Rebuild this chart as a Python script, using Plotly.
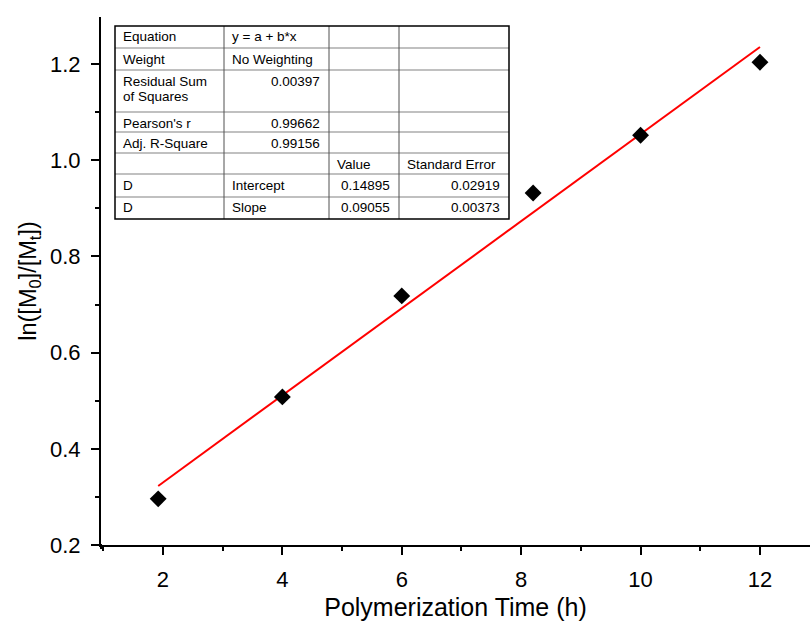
import plotly.graph_objects as go

# ---- data ----
time_h = [1.92, 4, 6, 8.2, 10, 12]
ln_ratio = [0.296, 0.508, 0.718, 0.932, 1.052, 1.204]

fit_intercept = 0.14895
fit_slope = 0.09055
fit_x = [1.92, 12]
fit_y = [fit_intercept + fit_slope * x for x in fit_x]

x_ticks = [2, 4, 6, 8, 10, 12]
y_ticks = [0.2, 0.4, 0.6, 0.8, 1.0, 1.2]

table_col1 = ["Equation", "Weight", "Residual Sum<br>of Squares", "Pearson's r", "Adj. R-Square", "", "D", "D"]
table_col2 = ["y = a + b*x", "No Weighting", "0.00397", "0.99662", "0.99156", "", "Intercept", "Slope"]
table_col3 = ["", "", "", "", "", "Value", "0.14895", "0.09055"]
table_col4 = ["", "", "", "", "", "Standard Error", "0.02919", "0.00373"]

# ---- layout geometry (pixels) ----
W, H = 810, 621
ML, MR, MT, MB = 101, 0, 17, 76
PW = W - ML - MR
PH = H - MT - MB


def px(x):
    return (x - ML) / PW


def py(y):
    return (H - MB - y) / PH


FONT = "Liberation Sans, Arial, sans-serif"

fig = go.Figure()
fig.add_trace(go.Scatter(x=fit_x, y=fit_y, mode="lines",
                         line=dict(color="#ff0000", width=2), showlegend=False))
fig.add_trace(go.Scatter(x=time_h, y=ln_ratio, mode="markers",
                         marker=dict(symbol="diamond", size=13, color="black",
                                     line=dict(width=0)), showlegend=False))

shapes = []
annotations = []

# table
col_edges = [115, 224, 329, 399, 509]
row_edges = [26, 48, 70, 112, 132, 153, 174, 197, 219]

for yy in row_edges[1:-1]:
    shapes.append(dict(type="line", xref="paper", yref="paper",
                       x0=px(col_edges[0]), x1=px(col_edges[-1]), y0=py(yy), y1=py(yy),
                       line=dict(color="#c0c0c0", width=2)))
for xx in col_edges[1:-1]:
    shapes.append(dict(type="line", xref="paper", yref="paper",
                       x0=px(xx), x1=px(xx), y0=py(row_edges[0]), y1=py(row_edges[-1]),
                       line=dict(color="#505050", width=1)))
shapes.append(dict(type="rect", xref="paper", yref="paper",
                   x0=px(col_edges[0]), x1=px(col_edges[-1]),
                   y0=py(row_edges[-1]), y1=py(row_edges[0]),
                   line=dict(color="black", width=1.5)))


def is_num(s):
    try:
        float(s)
        return True
    except ValueError:
        return False


cols = [table_col1, table_col2, table_col3, table_col4]
for ci, col in enumerate(cols):
    for ri, txt in enumerate(col):
        if not txt:
            continue
        lines = txt.split("<br>")
        right = is_num(txt)
        for li, ln in enumerate(lines):
            xpos = col_edges[ci + 1] - 7 if right else col_edges[ci] + 6
            ypos = row_edges[ri] + 11 + li * 16
            annotations.append(dict(text=ln, xref="paper", yref="paper",
                                    x=px(xpos), y=py(ypos),
                                    xanchor="right" if right else "left",
                                    yanchor="middle", showarrow=False,
                                    font=dict(family=FONT, size=13.5, color="black")))

# axis overhangs
shapes.append(dict(type="line", xref="paper", yref="paper",
                   x0=px(91), x1=px(102), y0=0, y1=0, line=dict(color="black", width=2)))
shapes.append(dict(type="line", xref="paper", yref="paper",
                   x0=0, x1=0, y0=py(549), y1=0, line=dict(color="black", width=2)))

fig.update_layout(
    width=W, height=H,
    margin=dict(l=ML, r=MR, t=MT, b=MB),
    plot_bgcolor="white", paper_bgcolor="white",
    font=dict(family=FONT, color="black"),
    shapes=shapes, annotations=annotations,
    xaxis=dict(range=[0.962, 12.838], tickvals=x_ticks, ticktext=[str(v) for v in x_ticks],
               showgrid=False, zeroline=False, showline=True, linecolor="black", linewidth=2,
               ticks="outside", ticklen=8, tickwidth=2, tickcolor="black",
               tickfont=dict(size=22), ticklabelstandoff=6,
               minor=dict(tickvals=[1, 3, 5, 7, 9, 11], ticks="outside", ticklen=4,
                          tickwidth=2, tickcolor="black"),
               title=dict(text="Polymerization Time (h)", font=dict(size=25), standoff=7)),
    yaxis=dict(range=[0.2, 1.298], tickvals=y_ticks, ticktext=["%.1f" % v for v in y_ticks],
               showgrid=False, zeroline=False, showline=True, linecolor="black", linewidth=2,
               ticks="outside", ticklen=8, tickwidth=2, tickcolor="black",
               tickfont=dict(size=22), ticklabelstandoff=6,
               minor=dict(tickvals=[0.3, 0.5, 0.7, 0.9, 1.1], ticks="outside", ticklen=4,
                          tickwidth=2, tickcolor="black"),
               title=dict(text="ln([M<sub>0</sub>]/[M<sub>t</sub>])", font=dict(size=23.5), standoff=7)),
)

fig.write_html("out.html")
